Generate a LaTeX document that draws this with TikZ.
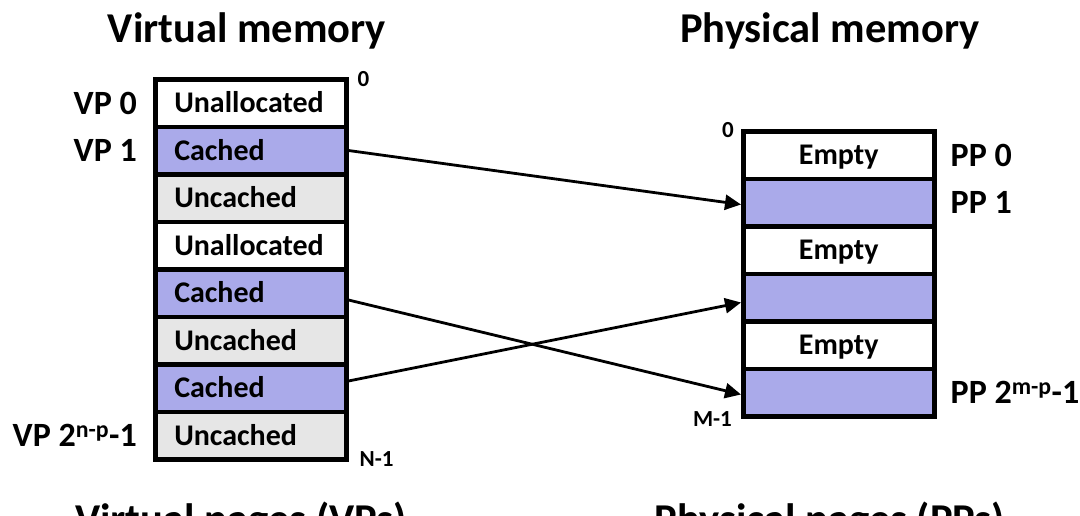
\documentclass[tikz,border=0pt]{standalone}
\usepackage{fontspec}
\setmainfont{Carlito}
\usetikzlibrary{arrows.meta}
\definecolor{cachedc}{RGB}{170,170,234}
\definecolor{uncachedc}{RGB}{230,230,230}
\begin{document}
\begin{tikzpicture}[x=1pt,y=-1pt,
  vcell/.style={draw=black, line width=4.5pt, anchor=north west, inner ysep=0pt, inner xsep=19pt,
    text width=153pt, align=left, minimum height=47.5pt, text height=23pt, text depth=3.6pt,
    font=\fontsize{30}{32}\selectfont\bfseries},
  pcell/.style={draw=black, line width=4.5pt, anchor=north west, inner ysep=0pt, inner xsep=0pt,
    text width=191pt, align=center, minimum height=47.5pt, text height=23pt, text depth=3.6pt,
    font=\fontsize{30}{32}\selectfont\bfseries},
  wfill/.style={fill=white},
  cfill/.style={fill=cachedc},
  ufill/.style={fill=uncachedc},
  lbl/.style={inner sep=0pt, font=\fontsize{34}{36}\selectfont\bfseries},
  small/.style={inner sep=0pt, font=\fontsize{23}{25}\selectfont\bfseries},
  ttl/.style={inner sep=0pt, anchor=base, font=\fontsize{42.5}{44}\selectfont\bfseries},
  arr/.style={line width=2.8pt, -{Triangle[length=16pt,width=15pt]}}
]
\useasboundingbox (0,0) rectangle (1080,515);

% titles
\node[ttl] (tv) at (247,42) {Virtual memory};
\node[ttl] (tp) at (830,42) {Physical memory};
\node[ttl] (bv) at (241,533) {Virtual pages (VPs)};
\node[ttl] (bp) at (830,533) {Physical pages (PPs)};

% virtual memory cells
\node[vcell,wfill] (v0) at (153,77) {Unallocated};
\node[vcell,cfill] (v1) at (153,124.5) {Cached};
\node[vcell,ufill] (v2) at (153,172) {Uncached};
\node[vcell,wfill] (v3) at (153,219.5) {Unallocated};
\node[vcell,cfill] (v4) at (153,267) {Cached};
\node[vcell,ufill] (v5) at (153,314.5) {Uncached};
\node[vcell,cfill] (v6) at (153,362) {Cached};
\node[vcell,ufill] (v7) at (153,409.5) {Uncached};

% physical memory cells
\node[pcell,wfill] (p0) at (741,129) {Empty};
\node[pcell,cfill] (p1) at (741,176.5) {};
\node[pcell,wfill] (p2) at (741,224) {Empty};
\node[pcell,cfill] (p3) at (741,271.5) {};
\node[pcell,wfill] (p4) at (741,319) {Empty};
\node[pcell,cfill] (p5) at (741,366.5) {};

% VP labels
\node[lbl,anchor=base east] (lv0) at ([xshift=-16pt,yshift=-11pt]v0.west) {VP 0};
\node[lbl,anchor=base east] (lv1) at ([xshift=-16pt,yshift=-11pt]v1.west) {VP 1};
\node[lbl,anchor=base east] (lv7) at ([xshift=-16pt,yshift=-11pt]v7.west) {VP 2\textsuperscript{n-p}-1};

% PP labels
\node[lbl,anchor=base west] (lp0) at ([xshift=14pt,yshift=-11pt]p0.east) {PP 0};
\node[lbl,anchor=base west] (lp1) at ([xshift=14pt,yshift=-11pt]p1.east) {PP 1};
\node[lbl,anchor=base west] (lp5) at ([xshift=14pt,yshift=-11pt]p5.east) {PP 2\textsuperscript{m-p}-1};

% address labels
\node[small,anchor=south west] (a0) at ([xshift=9pt,yshift=-10pt]v0.north east) {0};
\node[small,anchor=west] (aN) at ([xshift=11pt,yshift=2pt]v7.south east) {N-1};
\node[small,anchor=south east] (b0) at ([xshift=-7pt,yshift=-9pt]p0.north west) {0};
\node[small,anchor=east] (bM) at ([xshift=-9pt,yshift=-1pt]p5.south west) {M-1};

% mappings
\draw[arr] (v1.east) -- ([yshift=-2pt]p1.west);
\draw[arr] ([yshift=-7pt]v4.east) -- ([yshift=-2pt]p5.west);
\draw[arr] ([yshift=7pt]v6.east) -- ([yshift=-5pt]p3.west);
\end{tikzpicture}
\end{document}
